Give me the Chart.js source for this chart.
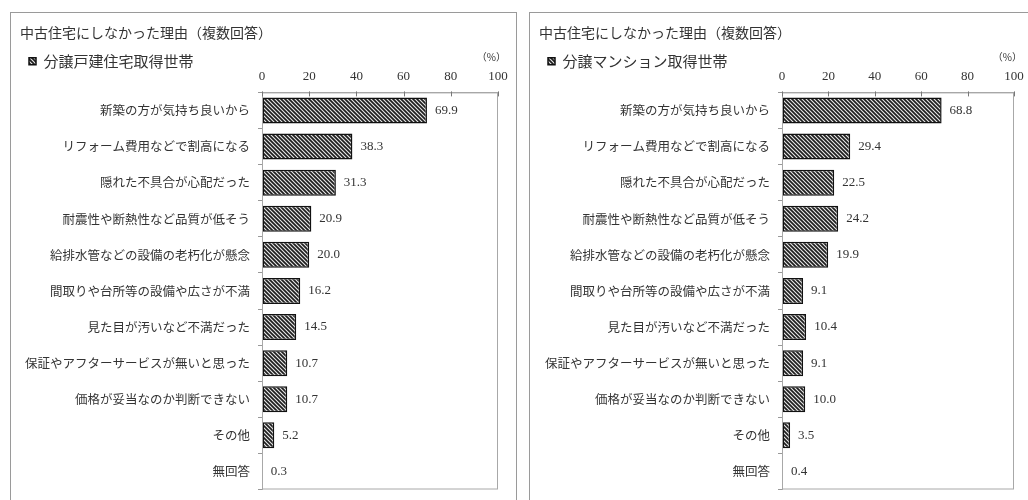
<!DOCTYPE html>
<html>
<head>
<meta charset="utf-8">
<script src="https://cdn.jsdelivr.net/npm/chart.js@4.4.1/dist/chart.umd.min.js"></script>
<style>
  html, body { margin: 0; padding: 0; background: #fff; overflow: hidden; }
  body { width: 1028px; height: 500px; position: relative; }
  .panel { position: absolute; top: 12px; border: 1px solid #9a9a9a; border-bottom: none; background: #fff; }
  #p1 { left: 10px; width: 505px; height: 495px; }
  #p2 { left: 529px; width: 505px; height: 495px; }
  canvas { display: block; }
</style>
</head>
<body>
<div class="panel" id="p1"><canvas id="c1" width="505" height="492"></canvas></div>
<div class="panel" id="p2"><canvas id="c2" width="498" height="492"></canvas></div>
<script>
const categories = [
  '新築の方が気持ち良いから',
  'リフォーム費用などで割高になる',
  '隠れた不具合が心配だった',
  '耐震性や断熱性など品質が低そう',
  '給排水管などの設備の老朽化が懸念',
  '間取りや台所等の設備や広さが不満',
  '見た目が汚いなど不満だった',
  '保証やアフターサービスが無いと思った',
  '価格が妥当なのか判断できない',
  'その他',
  '無回答'
];
const detachedValues = [69.9, 38.3, 31.3, 20.9, 20.0, 16.2, 14.5, 10.7, 10.7, 5.2, 0.3];
const mansionValues  = [68.8, 29.4, 22.5, 24.2, 19.9, 9.1, 10.4, 9.1, 10.0, 3.5, 0.4];
const xTickValues = [0, 20, 40, 60, 80, 100];
const chartTitle = '中古住宅にしなかった理由（複数回答）';
const seriesNames = ['分譲戸建住宅取得世帯', '分譲マンション取得世帯'];
const unitLabel = '（%）';

function makeHatch() {
  const s = 4;
  const pc = document.createElement('canvas');
  pc.width = s; pc.height = s;
  const g = pc.getContext('2d');
  g.fillStyle = '#e6e6e6';
  g.fillRect(0, 0, s, s);
  g.strokeStyle = '#1e1e1e';
  g.lineWidth = 1.7;
  g.beginPath();
  g.moveTo(-1, -1); g.lineTo(s + 1, s + 1);
  g.moveTo(-1, s - 1); g.lineTo(1, s + 1);
  g.moveTo(s - 1, -1); g.lineTo(s + 1, 1);
  g.stroke();
  return g.createPattern(pc, 'repeat');
}

const jpFont = '"Noto Sans CJK JP", "Noto Sans", sans-serif';
const numFont = '"Liberation Serif", "DejaVu Serif", serif';

const extrasPlugin = {
  id: 'extras',
  afterDatasetsDraw(chart) {
    const ctx = chart.ctx;
    const ca = chart.chartArea;
    ctx.save();
    // plot frame
    ctx.strokeStyle = '#a8a8a8';
    ctx.lineWidth = 1;
    ctx.strokeRect(ca.left + 0.5, ca.top + 0.5, ca.right - ca.left - 1, ca.bottom - ca.top - 1);
    // short tick marks on the top axis
    const xs = chart.scales.x;
    ctx.strokeStyle = '#777';
    ctx.beginPath();
    xTickValues.forEach(v => {
      const px = Math.round(xs.getPixelForValue(v)) + 0.5;
      ctx.moveTo(px, ca.top - 1);
      ctx.lineTo(px, ca.top + 4);
    });
    ctx.stroke();
    // value labels
    ctx.fillStyle = '#333';
    ctx.font = '13px ' + numFont;
    ctx.textAlign = 'left';
    ctx.textBaseline = 'middle';
    const meta = chart.getDatasetMeta(0);
    const data = chart.data.datasets[0].data;
    meta.data.forEach((bar, i) => {
      ctx.fillText(Number(data[i]).toFixed(1), bar.x + 8, bar.y);
    });
    // unit
    ctx.font = '10px ' + jpFont;
    ctx.textAlign = 'right';
    ctx.fillText(unitLabel, ca.right + 8, ca.top - 35);
    ctx.restore();
  }
};

function buildChart(id, values, name, yWidth, padRight) {
  const hatch = makeHatch();
  return new Chart(document.getElementById(id), {
    type: 'bar',
    data: {
      labels: categories,
      datasets: [{
        label: name,
        data: values,
        backgroundColor: hatch,
        borderColor: '#111',
        borderWidth: 1.5,
        borderSkipped: false,
        barPercentage: 0.72,
        categoryPercentage: 1.0
      }]
    },
    options: {
      indexAxis: 'y',
      responsive: false,
      animation: false,
      devicePixelRatio: 1,
      layout: { padding: { left: 9, right: padRight, top: 0, bottom: 8 } },
      plugins: {
        title: {
          display: true, text: chartTitle, align: 'start', color: '#333',
          font: { family: jpFont, size: 14, weight: 'normal' },
          padding: { top: 11, bottom: 4 }
        },
        legend: {
          display: true, align: 'start', maxHeight: 24,
          labels: {
            boxWidth: 7, boxHeight: 7, color: '#333',
            font: { family: jpFont, size: 15 },
            padding: 9
          }
        },
        tooltip: { enabled: false }
      },
      scales: {
        x: {
          position: 'top', min: 0, max: 100,
          afterBuildTicks(scale) { scale.ticks = xTickValues.map(v => ({ value: v })); },
          ticks: { color: '#333', font: { family: numFont, size: 13 }, padding: 0 },
          grid: { display: true, drawOnChartArea: false, drawTicks: true, tickLength: 8, tickColor: 'rgba(0,0,0,0)' },
          border: { color: '#a8a8a8' }
        },
        y: {
          ticks: { color: '#333', font: { family: jpFont, size: 12.5 }, padding: 8 },
          grid: { display: true, offset: true, drawOnChartArea: false, tickLength: 4, color: '#999' },
          border: { color: '#a8a8a8' },
          afterFit(scale) { scale.width = yWidth; }
        }
      }
    },
    plugins: [extrasPlugin]
  });
}

buildChart('c1', detachedValues, seriesNames[0], 242, 18);
buildChart('c2', mansionValues, seriesNames[1], 243, 14);
</script>
</body>
</html>
